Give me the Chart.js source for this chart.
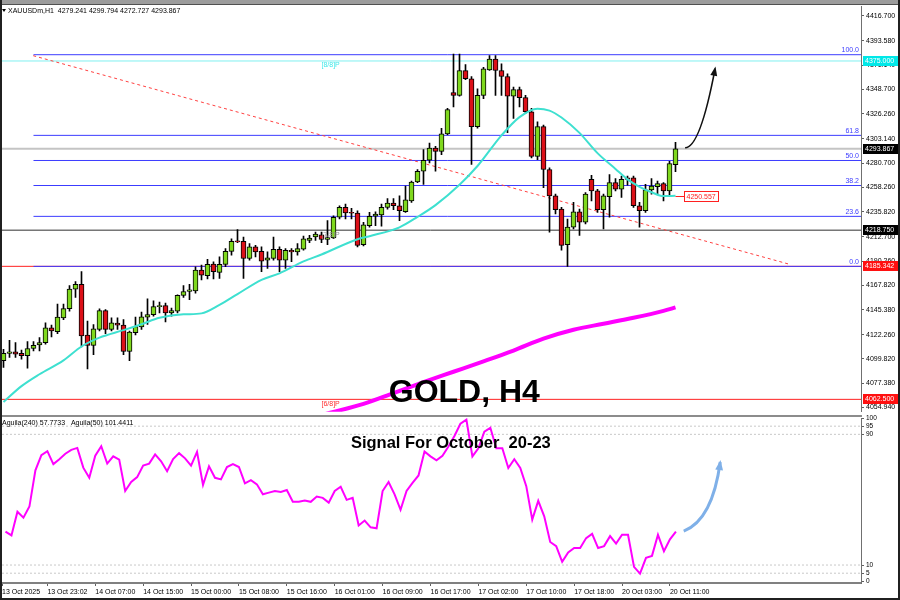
<!DOCTYPE html>
<html>
<head>
<meta charset="utf-8">
<script src="https://cdn.jsdelivr.net/npm/chart.js@4.4.1/dist/chart.umd.min.js"></script>
<style>
    html, body { margin: 0; padding: 0; background: #fff; }
    #wrap { position: relative; width: 900px; height: 600px; overflow: hidden; background: #fff; }
    #topbar { position: absolute; left: 0; top: 0; width: 900px; height: 4px; background: #9c9c9c; border-bottom: 1px solid #505050; }
    #sep { position: absolute; left: 0; top: 415px; width: 862px; height: 2px; background: #8c8c8c; }
    #frameL { position: absolute; left: 0; top: 0; width: 2px; height: 600px; background: #202020; }
    #frameB { position: absolute; left: 0; top: 598px; width: 900px; height: 2px; background: #202020; }
    #frameR { position: absolute; left: 898px; top: 0; width: 2px; height: 600px; background: #202020; }
    canvas { position: absolute; left: 0; }
    #mainChart { top: 0; }
    #aguilaChart { top: 412px; }
</style>
</head>
<body>
<div id="wrap">
    <canvas id="mainChart" width="900" height="418"></canvas>
    <canvas id="aguilaChart" width="900" height="188"></canvas>
    <div id="topbar"></div>
    <div id="sep"></div>
    <div id="frameL"></div>
    <div id="frameB"></div>
    <div id="frameR"></div>
</div>
<script>
// ---- Candles (XAUUSD) ----
const OPEN = [
    4098.2, 4104.9, 4106.4, 4104.9, 4102.8, 4109.5, 4112.8, 4114.9, 4128.6, 4125.0,
    4137.8, 4146.3, 4164.3, 4168.8, 4121.9, 4112.4, 4127.1, 4144.4, 4127.1, 4132.9,
    4131.1, 4106.7, 4124.1, 4129.5, 4138.4, 4140.8, 4148.1, 4149.0, 4142.3, 4143.9,
    4158.5, 4162.1, 4162.7, 4181.9, 4176.8, 4187.4, 4179.8, 4187.1, 4199.2, 4208.4,
    4208.4, 4192.6, 4203.3, 4199.2, 4191.0, 4192.6, 4201.1, 4191.0, 4200.2, 4198.7,
    4201.1, 4209.3, 4212.4, 4214.5, 4210.2, 4211.5, 4230.7, 4239.8, 4234.6, 4234.6,
    4205.4, 4223.0, 4231.6, 4232.8, 4239.8, 4243.7, 4241.3, 4235.8, 4245.8, 4263.2,
    4273.2, 4283.3, 4294.6, 4291.5, 4307.7, 4345.8, 4343.3, 4366.1, 4358.6, 4314.4,
    4343.3, 4366.8, 4376.8, 4366.2, 4360.7, 4342.4, 4348.5, 4341.2, 4328.1, 4286.9,
    4314.4, 4274.8, 4250.4, 4238.2, 4205.4, 4221.5, 4235.8, 4226.1, 4265.7, 4255.0,
    4237.6, 4249.8, 4262.6, 4256.5, 4267.2, 4267.2, 4241.3, 4236.7, 4255.9, 4259.0,
    4261.7, 4255.0, 4279.241
];
const HIGH = [
    4108.8, 4117.0, 4114.9, 4107.9, 4115.8, 4115.8, 4119.5, 4133.2, 4131.1, 4150.5,
    4150.5, 4167.6, 4171.3, 4180.4, 4134.7, 4131.6, 4146.0, 4145.3, 4137.8, 4137.8,
    4136.2, 4125.6, 4138.4, 4143.0, 4155.4, 4153.6, 4152.4, 4151.5, 4146.9, 4159.0,
    4167.6, 4168.8, 4185.0, 4186.4, 4191.9, 4189.6, 4194.1, 4201.7, 4210.8, 4219.3,
    4212.4, 4206.3, 4204.7, 4203.3, 4198.7, 4212.4, 4203.3, 4201.7, 4201.7, 4206.3,
    4213.3, 4213.9, 4217.0, 4217.0, 4227.6, 4232.1, 4241.3, 4242.8, 4238.9, 4236.7,
    4226.1, 4235.2, 4235.8, 4242.8, 4248.0, 4248.0, 4250.4, 4259.5, 4264.1, 4274.8,
    4293.1, 4299.2, 4296.1, 4312.9, 4331.2, 4381.4, 4381.4, 4371.6, 4360.7, 4349.4,
    4369.2, 4379.9, 4379.9, 4372.3, 4363.1, 4350.9, 4350.9, 4343.3, 4331.2, 4318.9,
    4315.9, 4276.3, 4252.0, 4239.8, 4229.1, 4244.4, 4238.2, 4253.5, 4269.3, 4256.5,
    4252.0, 4270.2, 4266.3, 4268.7, 4268.7, 4268.7, 4244.4, 4261.1, 4266.3, 4264.1,
    4262.6, 4282.4, 4299.794
];
const LOW = [
    4092.1, 4101.2, 4101.2, 4099.7, 4091.4, 4107.3, 4107.3, 4113.4, 4120.1, 4123.1,
    4136.2, 4143.9, 4156.7, 4111.0, 4090.5, 4103.7, 4125.6, 4123.1, 4125.6, 4127.1,
    4103.7, 4098.2, 4121.9, 4127.1, 4131.6, 4139.3, 4142.3, 4134.1, 4139.3, 4142.3,
    4156.7, 4154.5, 4160.6, 4172.7, 4173.7, 4173.7, 4174.3, 4185.0, 4195.6, 4207.2,
    4174.3, 4191.0, 4194.1, 4180.4, 4183.4, 4191.0, 4180.4, 4183.4, 4189.6, 4195.6,
    4200.2, 4207.2, 4209.3, 4207.2, 4205.4, 4210.8, 4229.1, 4229.1, 4229.1, 4203.3,
    4204.2, 4221.5, 4223.0, 4222.4, 4238.2, 4237.6, 4227.6, 4235.2, 4244.4, 4262.6,
    4261.1, 4280.9, 4273.2, 4288.5, 4306.8, 4332.6, 4342.4, 4357.7, 4279.4, 4312.9,
    4340.3, 4366.2, 4343.3, 4343.3, 4308.9, 4322.0, 4332.6, 4326.6, 4285.5, 4283.9,
    4258.1, 4217.0, 4233.7, 4200.2, 4185.3, 4220.0, 4213.9, 4224.5, 4245.8, 4235.2,
    4220.0, 4230.7, 4255.0, 4248.9, 4260.2, 4239.8, 4221.5, 4235.2, 4252.0, 4252.0,
    4245.8, 4250.9, 4272.727
];
const CLOSE = [
    4104.9, 4106.4, 4104.2, 4102.8, 4109.5, 4112.5, 4114.9, 4128.6, 4125.6, 4138.4,
    4146.3, 4164.3, 4168.8, 4121.0, 4112.4, 4127.7, 4144.4, 4127.1, 4133.2, 4131.1,
    4106.7, 4124.7, 4129.8, 4138.7, 4140.8, 4148.1, 4148.4, 4142.3, 4144.4, 4158.5,
    4162.1, 4163.6, 4181.9, 4177.3, 4187.1, 4180.4, 4187.1, 4199.2, 4208.4, 4208.0,
    4192.6, 4203.3, 4198.7, 4190.1, 4193.2, 4201.1, 4191.0, 4200.2, 4198.7, 4201.7,
    4210.8, 4211.5, 4215.1, 4210.2, 4212.0, 4230.7, 4239.8, 4234.6, 4234.4, 4204.7,
    4223.6, 4231.6, 4233.7, 4239.8, 4243.7, 4241.3, 4236.7, 4246.7, 4263.2, 4273.2,
    4283.3, 4294.6, 4291.5, 4307.7, 4330.2, 4343.3, 4366.1, 4358.6, 4314.4, 4343.3,
    4367.7, 4376.8, 4366.2, 4360.7, 4342.4, 4348.5, 4341.2, 4328.1, 4286.9, 4314.4,
    4274.8, 4250.4, 4237.6, 4204.7, 4221.5, 4235.8, 4226.1, 4252.0, 4255.0, 4237.6,
    4250.4, 4262.6, 4256.5, 4265.7, 4265.7, 4241.3, 4236.7, 4255.9, 4259.5, 4261.7,
    4255.0, 4280.3, 4293.867
];

// Fast MA (cyan) and slow MA (magenta), read at selected bars
const MA_FAST_BARS = [0, 3, 6, 10, 13, 16, 20, 23, 26, 30, 33, 36, 39, 43, 46, 50, 53, 59, 61, 66,
    69, 72, 76, 79, 83, 86, 89, 91, 93, 96, 99, 102, 104, 106, 108, 110, 112];
const MA_FAST = [4060.1, 4074.7, 4085.7, 4098.5, 4111.3, 4119.5, 4126.4, 4131.9, 4137.8, 4141.0,
    4141.9, 4149.7, 4159.7, 4172.9, 4178.9, 4189.9, 4196.3, 4210.4, 4213.2, 4221.4,
    4231.0, 4241.9, 4260.7, 4278.0, 4306.3, 4323.2, 4331.0, 4329.2, 4322.8, 4308.6,
    4289.9, 4275.3, 4265.7, 4258.8, 4253.8, 4250.2, 4250.557];
const MA_SLOW_BARS = [53, 60, 65, 70, 75, 80, 85, 90, 95, 100, 105, 110, 112];
const MA_SLOW = [4048.0, 4058.3, 4068.3, 4078.4, 4088.0, 4097.6, 4107.6, 4118.6, 4126.8, 4132.3,
    4137.8, 4144.2, 4147.4];

// Fibonacci retracement (anchored at bar 5)
const FIB_START_BAR = 5;
const FIB_LEVELS = ['100.0', '61.8', '50.0', '38.2', '23.6', '0.0'];
const FIB_PRICES = [4380.8, 4306.3, 4283.1, 4260.0, 4231.5, 4185.3];

// Horizontal price levels shown on the price axis
const LEVEL_PRICES = [4375.0, 4293.867, 4218.75, 4185.342, 4062.5];
const MURREY_NAMES = ['[8/8]P', '[7/8]P', '[6/8]P'];
const MURREY_PRICES = [4375.0, 4218.75, 4062.5];

// Falling trend line (dotted red)
const TREND_BARS = [4.95, 131.1];
const TREND_PRICES = [4379.9, 4187.1];

// Aguila oscillator, one value per bar
const AGUILA = [
    30.5, 28.1, 42.6, 39.0, 45.8, 68.0, 77.3, 79.7, 71.8, 74.8,
    78.1, 80.5, 81.7, 69.6, 63.4, 76.9, 82.7, 72.1, 76.5, 74.5,
    55.3, 60.8, 63.8, 70.9, 72.1, 77.7, 73.5, 67.4, 74.8, 78.5,
    75.3, 70.9, 79.3, 59.1, 70.4, 63.4, 62.4, 70.0, 71.8, 70.0,
    60.0, 62.0, 59.4, 53.3, 54.3, 55.3, 54.7, 55.9, 48.7, 48.7,
    49.5, 48.7, 51.9, 51.1, 48.2, 55.3, 57.9, 49.9, 51.1, 34.2,
    37.2, 33.1, 32.5, 55.3, 60.8, 53.3, 43.8, 55.3, 60.3, 64.8,
    79.5, 76.5, 74.1, 76.9, 82.5, 89.0, 96.5, 99.0, 76.5, 81.5,
    91.6, 94.0, 81.5, 81.5, 69.4, 74.8, 69.4, 58.3, 37.8, 49.3,
    39.8, 24.1, 21.6, 12.0, 17.7, 20.4, 20.4, 26.5, 29.1, 20.4,
    21.6, 27.7, 23.1, 28.5, 28.5, 8.9, 4.7, 14.4, 15.6, 28.5,
    18.4, 25.7, 30.5
];
const AGUILA_LEVELS = [95, 90, 10, 5];
const AGUILA_TICKS = [0, 5, 10, 90, 95, 100];

// Axis ticks
const PRICE_TICKS = [4416.700, 4393.580, 4371.140, 4348.700, 4326.260, 4303.140, 4280.700, 4258.260,
    4235.820, 4212.700, 4190.260, 4167.820, 4145.380, 4122.260, 4099.820, 4077.380, 4054.940];
const TIME_TICK_BARS = [-0.58, 7, 15, 23, 31, 39, 47, 55, 63, 71, 79, 87, 95, 103, 111];
const TIME_TICK_LABELS = ['13 Oct 2025', '13 Oct 23:02', '14 Oct 07:00', '14 Oct 15:00', '15 Oct 00:00',
    '15 Oct 08:00', '15 Oct 16:00', '16 Oct 01:00', '16 Oct 09:00', '16 Oct 17:00', '17 Oct 02:00',
    '17 Oct 10:00', '17 Oct 18:00', '20 Oct 03:00', '20 Oct 11:00'];

// Forecast arrows: [bar, value] for start, control, end
const PRICE_ARROW = [[113.6, 4294.9], [116.1, 4294.9], [118.6, 4368.0]];
const AGUILA_ARROW = [[113.3, 30.8], [118.1, 37.6], [119.4, 73.1]];

// ---- Layout / style ----
const X_MIN = -0.583;
const X_MAX = X_MIN + 861 / 6;
const GREEN = '#7fd81e';
const RED = '#dc1018';
const FONT = '"Liberation Sans", Arial, sans-serif';

const bars = OPEN.map((_, i) => i);
const lineDS = (points, color, width, order, extra) => Object.assign({
    type: 'line', data: points, borderColor: color, borderWidth: width,
    pointRadius: 0, fill: false, order: order, tension: 0
}, extra || {});

function drawArrow(ctx, pts, color, width, head) {
    const [p0, c, p1] = pts;
    ctx.save();
    ctx.strokeStyle = color;
    ctx.fillStyle = color;
    ctx.lineWidth = width;
    ctx.beginPath();
    ctx.moveTo(p0[0], p0[1]);
    ctx.quadraticCurveTo(c[0], c[1], p1[0], p1[1]);
    ctx.stroke();
    const a = Math.atan2(p1[1] - c[1], p1[0] - c[0]);
    ctx.beginPath();
    ctx.moveTo(p1[0] + Math.cos(a) * 2, p1[1] + Math.sin(a) * 2);
    ctx.lineTo(p1[0] - Math.cos(a - 0.45) * head, p1[1] - Math.sin(a - 0.45) * head);
    ctx.lineTo(p1[0] - Math.cos(a + 0.45) * head, p1[1] - Math.sin(a + 0.45) * head);
    ctx.closePath();
    ctx.fill();
    ctx.restore();
}

function axisBox(ctx, area, y, text, bg, fg) {
    ctx.fillStyle = bg;
    ctx.fillRect(area.right + 2, Math.round(y) - 5, 36, 10);
    ctx.fillStyle = fg;
    ctx.font = '7px ' + FONT;
    ctx.textAlign = 'left';
    ctx.textBaseline = 'middle';
    ctx.fillText(text, area.right + 4, Math.round(y) + 0.5);
}

// ---- Main price chart ----
const mainOverlay = {
    id: 'mainOverlay',
    afterDraw(chart) {
        const { ctx, chartArea: area, scales: { x, y } } = chart;
        ctx.save();

        // header
        ctx.fillStyle = '#000';
        ctx.font = '7px ' + FONT;
        ctx.textBaseline = 'middle';
        ctx.textAlign = 'left';
        ctx.fillText('XAUUSDm,H1  4279.241 4299.794 4272.727 4293.867', 8, 11);
        ctx.beginPath();
        ctx.moveTo(2, 9); ctx.lineTo(6, 9); ctx.lineTo(4, 12); ctx.fill();
        ctx.beginPath();
        ctx.moveTo(683, 0); ctx.lineTo(690, 0); ctx.lineTo(686.5, 5); ctx.fill();

        // fib labels
        ctx.fillStyle = '#3c3cff';
        ctx.textAlign = 'right';
        ctx.textBaseline = 'bottom';
        FIB_LEVELS.forEach((lv, i) => ctx.fillText(lv, area.right - 2, y.getPixelForValue(FIB_PRICES[i]) - 1));

        // murrey labels
        const murreyColors = ['#40e8e8', '#909090', '#ff3030'];
        ctx.textAlign = 'left';
        ctx.textBaseline = 'top';
        MURREY_NAMES.forEach((n, i) => {
            ctx.fillStyle = murreyColors[i];
            ctx.fillText(n, x.getPixelForValue(53), y.getPixelForValue(MURREY_PRICES[i]) + 1);
        });

        // MA value tag
        const lastBar = MA_FAST_BARS[MA_FAST_BARS.length - 1];
        const maY = Math.round(y.getPixelForValue(MA_FAST[MA_FAST.length - 1])) + 0.5;
        const tagX = Math.round(x.getPixelForValue(lastBar + 1.4)) + 0.5;
        ctx.strokeStyle = '#ff2020';
        ctx.lineWidth = 1;
        ctx.beginPath();
        ctx.moveTo(x.getPixelForValue(lastBar), maY);
        ctx.lineTo(tagX, maY);
        ctx.stroke();
        ctx.fillStyle = '#fff';
        ctx.fillRect(tagX, maY - 5, 34, 10);
        ctx.strokeRect(tagX, maY - 5, 34, 10);
        ctx.fillStyle = '#ff2020';
        ctx.textBaseline = 'middle';
        ctx.fillText(MA_FAST[MA_FAST.length - 1].toFixed(3), tagX + 2, maY + 0.5);

        // price axis tags
        const tagColors = [['#00e8e8', '#fff'], ['#000', '#fff'], ['#000', '#fff'], ['#ff1010', '#fff'], ['#ff1010', '#fff']];
        LEVEL_PRICES.forEach((p, i) => axisBox(ctx, area, y.getPixelForValue(p), p.toFixed(3), tagColors[i][0], tagColors[i][1]));

        // forecast arrow
        drawArrow(ctx, PRICE_ARROW.map(p => [x.getPixelForValue(p[0]), y.getPixelForValue(p[1])]), '#111', 1.6, 8);

        // title
        ctx.fillStyle = '#000';
        ctx.font = 'bold 32px ' + FONT;
        ctx.textAlign = 'center';
        ctx.textBaseline = 'alphabetic';
        ctx.fillText('GOLD, H4', x.getPixelForValue(76.8), y.getPixelForValue(4060.1));
        ctx.restore();
    }
};

const levelColors = ['#80f0f0', '#c4c4c4', '#303030', '#ff2020', '#ff2020'];
const levelWidths = [1, 2, 1, 1, 1];

const mainDatasets = [
    ...LEVEL_PRICES.map((p, i) => lineDS([{ x: X_MIN, y: p }, { x: X_MAX, y: p }], levelColors[i], levelWidths[i], 20)),
    ...FIB_PRICES.map(p => lineDS([{ x: FIB_START_BAR, y: p }, { x: X_MAX, y: p }], '#3c3cff', 1, 19)),
    lineDS(TREND_BARS.map((b, i) => ({ x: b, y: TREND_PRICES[i] })), '#ff4040', 1, 18, { borderDash: [3, 3] }),
    {
        type: 'bar', order: 6, grouped: false, barThickness: 1,
        data: bars.map(i => ({ x: i, y: [LOW[i], HIGH[i]] })),
        backgroundColor: '#000'
    },
    {
        type: 'bar', order: 5, grouped: false, barThickness: 5, minBarLength: 1,
        data: bars.map(i => ({ x: i, y: [OPEN[i], CLOSE[i]] })),
        backgroundColor: bars.map(i => CLOSE[i] >= OPEN[i] ? GREEN : RED),
        borderColor: '#000', borderWidth: 1, borderSkipped: false
    },
    lineDS(MA_FAST_BARS.map((b, i) => ({ x: b, y: MA_FAST[i] })), '#3ee0d0', 2, 2, { cubicInterpolationMode: 'monotone' }),
    lineDS(MA_SLOW_BARS.map((b, i) => ({ x: b, y: MA_SLOW[i] })), '#ff00ff', 4, 1, { cubicInterpolationMode: 'monotone' })
];

new Chart(document.getElementById('mainChart'), {
    type: 'bar',
    data: { datasets: mainDatasets },
    options: {
        responsive: false,
        animation: false,
        devicePixelRatio: 1,
        layout: { padding: { top: 5, bottom: 3, left: 0, right: 0 } },
        plugins: { legend: { display: false }, tooltip: { enabled: false } },
        scales: {
            x: { type: 'linear', min: X_MIN, max: X_MAX, offset: false, display: false },
            y: {
                position: 'right',
                min: 4051.0,
                max: 4425.6,
                afterBuildTicks: s => { s.ticks = PRICE_TICKS.map(v => ({ value: v })); },
                afterFit: s => { s.width = 39; },
                grid: { drawOnChartArea: false, tickLength: 3, color: '#606060' },
                border: { display: true, color: '#707070', width: 1 },
                ticks: {
                    font: { family: FONT, size: 7 }, color: '#000', padding: 2,
                    autoSkip: false, callback: v => v.toFixed(3)
                }
            }
        }
    },
    plugins: [mainOverlay]
});

// ---- Aguila oscillator ----
const aguilaOverlay = {
    id: 'aguilaOverlay',
    afterDraw(chart) {
        const { ctx, scales: { x, y } } = chart;
        ctx.save();
        ctx.fillStyle = '#000';
        ctx.font = '7px ' + FONT;
        ctx.textAlign = 'left';
        ctx.textBaseline = 'middle';
        ctx.fillText('Aguila(240) 57.7733   Aguila(50) 101.4411', 2, 11);

        drawArrow(ctx, AGUILA_ARROW.map(p => [x.getPixelForValue(p[0]), y.getPixelForValue(p[1])]), '#7fb0e8', 3, 9);

        ctx.fillStyle = '#000';
        ctx.font = 'bold 16.5px ' + FONT;
        ctx.textAlign = 'center';
        ctx.textBaseline = 'alphabetic';
        ctx.fillText('Signal For October  20-23', x.getPixelForValue(74.4), y.getPixelForValue(81.6));
        ctx.restore();
    }
};

new Chart(document.getElementById('aguilaChart'), {
    type: 'line',
    data: {
        datasets: [
            ...AGUILA_LEVELS.map(v => lineDS([{ x: X_MIN, y: v }, { x: X_MAX, y: v }], '#c8c8c8', 1, 5, { borderDash: [2, 2] })),
            lineDS(bars.map(i => ({ x: i, y: AGUILA[i] })), '#ff00ff', 2, 1)
        ]
    },
    options: {
        responsive: false,
        animation: false,
        devicePixelRatio: 1,
        layout: { padding: { top: 6, bottom: 0, left: 0, right: 0 } },
        plugins: { legend: { display: false }, tooltip: { enabled: false } },
        scales: {
            x: {
                type: 'linear', min: X_MIN, max: X_MAX, offset: false,
                afterBuildTicks: s => { s.ticks = TIME_TICK_BARS.map(v => ({ value: v })); },
                afterFit: s => { s.height = 17; },
                grid: { drawOnChartArea: false, tickLength: 3, color: '#606060' },
                border: { display: true, color: '#808080', width: 2 },
                ticks: {
                    font: { family: FONT, size: 7 }, color: '#000', padding: 2,
                    align: 'start', maxRotation: 0, autoSkip: false,
                    callback: v => TIME_TICK_LABELS[TIME_TICK_BARS.indexOf(v)]
                }
            },
            y: {
                position: 'right',
                min: -1,
                max: 100,
                afterBuildTicks: s => { s.ticks = AGUILA_TICKS.map(v => ({ value: v })); },
                afterFit: s => { s.width = 39; },
                grid: { drawOnChartArea: false, tickLength: 3, color: '#606060' },
                border: { display: true, color: '#707070', width: 1 },
                ticks: { font: { family: FONT, size: 6.5 }, color: '#000', padding: 2, autoSkip: false }
            }
        }
    },
    plugins: [aguilaOverlay]
});
</script>
</body>
</html>
